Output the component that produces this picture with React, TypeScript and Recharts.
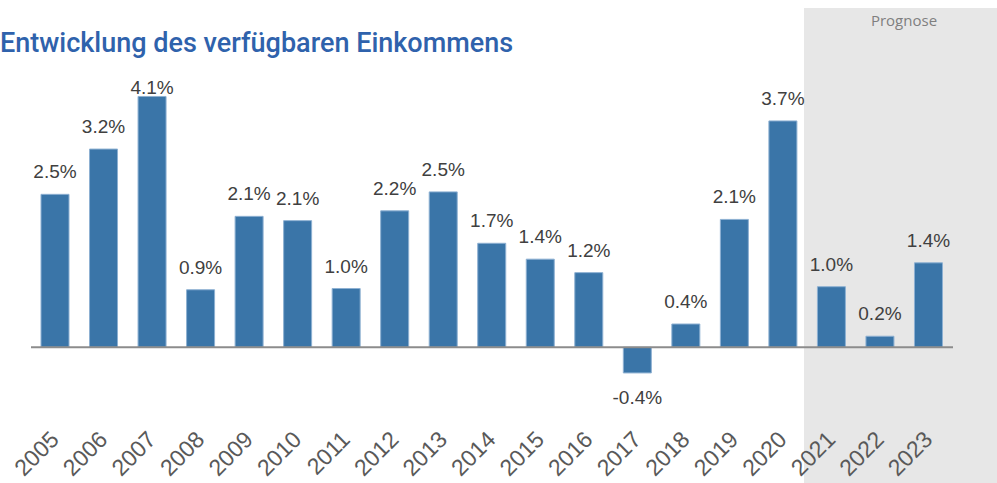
import React from "react";
import {
  BarChart,
  Bar,
  XAxis,
  YAxis,
  ReferenceLine,
  LabelList,
} from "recharts";

const years = [
  "2005", "2006", "2007", "2008", "2009", "2010", "2011", "2012", "2013", "2014",
  "2015", "2016", "2017", "2018", "2019", "2020", "2021", "2022", "2023",
];
// growth of disposable income in %
const growth = [
  2.5, 3.24, 4.1, 0.94, 2.14, 2.07, 0.96, 2.23, 2.54, 1.7,
  1.44, 1.22, -0.42, 0.38, 2.09, 3.7, 0.99, 0.18, 1.38,
];

const data = years.map((year, i) => ({ year, value: growth[i] }));

const W = 997;
const H = 483;
const BAR = "#3A75A8";
const LABEL_MIN_Y = 94;

function YearTick(props: any) {
  const { x, y, payload } = props;
  return (
    <text
      transform={`translate(${x + 5}, ${y - 6}) rotate(-45)`}
      textAnchor="end"
      fontFamily="'Liberation Sans', Arial, sans-serif"
      fontSize={23}
      fill="#595959"
    >
      {payload.value}
    </text>
  );
}

function ValueLabel(props: any) {
  const { x, y, width, height, value } = props;
  const top = Math.min(y, y + height);
  const bottom = Math.max(y, y + height);
  const ly = value < 0 ? bottom + 31 : Math.max(top - 16, LABEL_MIN_Y);
  return (
    <text
      x={x + width / 2}
      y={ly}
      textAnchor="middle"
      fontFamily="'Liberation Sans', Arial, sans-serif"
      fontSize={19}
      fill="#404040"
    >
      {`${Number(value).toFixed(1)}%`}
    </text>
  );
}

export default function App() {
  return (
    <div
      style={{
        position: "absolute",
        left: 0,
        top: 0,
        width: W,
        height: H,
        overflow: "hidden",
        background: "#fff",
      }}
    >
      <svg
        width={W}
        height={H}
        style={{ position: "absolute", left: 0, top: 0 }}
      >
        <rect x={804} y={8} width={W - 804} height={H - 8} fill="#E7E7E7" />
        <text
          x={904}
          y={26}
          textAnchor="middle"
          fontFamily="'Open Sans', sans-serif"
          fontSize={15}
          fill="#7F7F7F"
        >
          Prognose
        </text>
        <text
          x={0}
          y={52}
          fontFamily="Roboto, sans-serif"
          fontWeight={500}
          fontSize={27}
          fill="#2F62AC"
        >
          Entwicklung des verfügbaren Einkommens
        </text>
      </svg>
      <div style={{ position: "absolute", left: 0, top: 0 }}>
        <BarChart
          width={W}
          height={H}
          data={data}
          margin={{ top: 72, right: 44, bottom: 0, left: 31 }}
        >
          <XAxis
            dataKey="year"
            axisLine={false}
            tickLine={false}
            interval={0}
            height={44}
            tick={<YearTick />}
          />
          <YAxis hide domain={[-1.5, 4.5]} />
          <Bar
            dataKey="value"
            fill={BAR}
            stroke="#8DB0D2"
            strokeWidth={1}
            barSize={28}
            isAnimationActive={false}
          >
            <LabelList dataKey="value" content={<ValueLabel />} />
          </Bar>
          <ReferenceLine y={0} stroke="#8C8C8C" strokeWidth={2} />
        </BarChart>
      </div>
    </div>
  );
}
